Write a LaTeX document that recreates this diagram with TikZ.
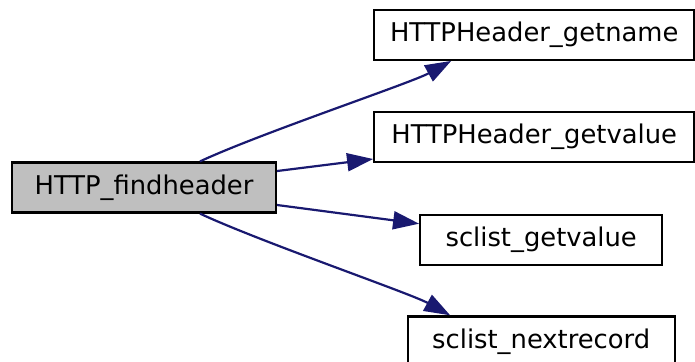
\documentclass[tikz,border=0pt]{standalone}
\usepackage{fontspec}
\setmainfont{DejaVu Sans}
\usetikzlibrary{positioning, arrows.meta}
\definecolor{edgeblue}{HTML}{191970}
\definecolor{callergray}{HTML}{BFBFBF}

\begin{document}
\begin{tikzpicture}[
  func/.style={rectangle, draw=black, fill=white, line width=1.1pt, inner xsep=8pt, minimum height=25pt, font=\fontsize{12.9}{15}\selectfont},
  caller/.style={func, fill=callergray},
  call/.style={-{Triangle[length=13pt, width=9pt]}, line width=1.1pt, color=edgeblue},
  node distance=25pt
]
\useasboundingbox (0,0) rectangle (347.5pt,-180.5pt);

% ======================
% CALLER
% ======================
\node[caller, minimum width=132pt] (findheader) at (72pt,-93.75pt) {HTTP\_findheader};

% ======================
% CALLEES
% ======================
\node[func, minimum width=160pt, right=48pt of findheader, yshift=25.25pt] (getvalue) {HTTPHeader\_getvalue};

\node[func, minimum width=160pt, above=of getvalue] (getname) {HTTPHeader\_getname};

\node[func, minimum width=121pt, below=25.5pt of getvalue, xshift=3.5pt] (sclist_getvalue) {sclist\_getvalue};

\node[func, minimum width=133.5pt, below=24.5pt of sclist_getvalue] (sclist_nextrecord) {sclist\_nextrecord};

% ======================
% CALLS
% ======================
\draw[call] ([xshift=28pt]findheader.north) .. controls +(30pt,14pt) and +(-20pt,-11pt) .. ([xshift=-41.5pt]getname.south);
\draw[call] ([yshift=8.25pt]findheader.east) -- ([yshift=-11pt]getvalue.west);
\draw[call] ([yshift=-8.75pt]findheader.east) -- ([yshift=8.25pt]sclist_getvalue.west);
\draw[call] ([xshift=28pt]findheader.south) .. controls +(30pt,-14pt) and +(-20pt,11pt) .. ([xshift=-45.5pt]sclist_nextrecord.north);

\end{tikzpicture}
\end{document}
